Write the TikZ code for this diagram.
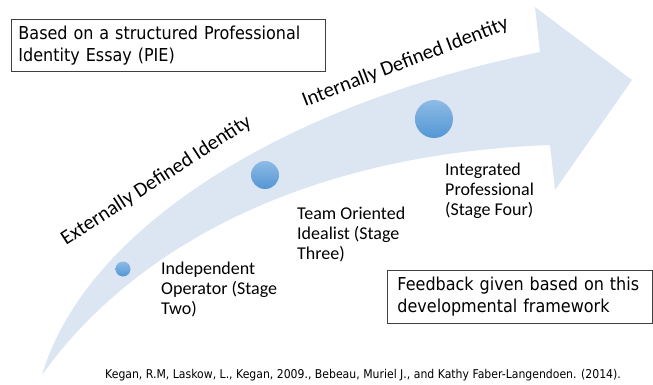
\documentclass[tikz,border=0pt]{standalone}
\usepackage{fontspec}
\newfontfamily\verd[FakeStretch=0.9]{DejaVu Sans}
\newfontfamily\cali{Carlito}
\definecolor{arrowfill}{RGB}{220,230,242}
\definecolor{dotlight}{RGB}{141,187,229}
\definecolor{dotdark}{RGB}{84,150,212}
\definecolor{boxline}{RGB}{64,64,64}
\begin{document}
\begin{tikzpicture}[x=1pt,y=-1pt,
  stagelabel/.style={font=\cali\fontsize{18}{20}\selectfont, align=left, anchor=west, inner sep=0pt},
  phase/.style={font=\cali\fontsize{20.6}{24}\selectfont, anchor=base west, inner sep=0pt},
  notebox/.style={draw=boxline, line width=0.9pt, anchor=north west, font=\verd\fontsize{17.8}{22}\selectfont, align=left, inner ysep=0pt},
  dot/.style={circle, inner sep=0pt, top color=dotlight, bottom color=dotdark, draw=none}]
\useasboundingbox (0,0) rectangle (653,385);
% curved arrow
\fill[arrowfill] (42,375) .. controls (85,230) and (280,105) .. (540,52) -- (535,7) -- (632,80) -- (555,190) -- (550,145) .. controls (280,155) and (120,265) .. (42,375) -- cycle;
% boxes
\node[notebox, inner xsep=7pt, text width=300pt, minimum height=52pt] (pie) at (11,19) {Based on a structured Professional\\Identity Essay (PIE)};
\node[notebox, inner xsep=10pt, text width=245pt, minimum height=53pt] (feedback) at (387,270) {Feedback given based on this\\developmental framework};
% phases
\node[phase, rotate=33] (ext) at (66,246) {Externally Defined Identity};
\node[phase, rotate=21] (int) at (305,107) {Internally Defined Identity};
% stage dots
\node[dot, minimum size=15pt] (d2) at (123,269) {};
\node[dot, minimum size=28pt] (d3) at (265,175) {};
\node[dot, minimum size=38pt] (d4) at (434,119) {};
% stage labels
\node[stagelabel] (s2) at (161,289) {Independent\\Operator (Stage\\Two)};
\node[stagelabel] (s3) at (297,234) {Team Oriented\\Idealist (Stage\\Three)};
\node[stagelabel] (s4) at (445,191) {Integrated\\Professional\\(Stage Four)};
% citation
\node[font=\verd\fontsize{12.1}{14}\selectfont, inner sep=0pt] (cite) at (363,375) {Kegan, R.M, Laskow, L., Kegan, 2009., Bebeau, Muriel J., and Kathy Faber-Langendoen. (2014).};
\end{tikzpicture}
\end{document}
